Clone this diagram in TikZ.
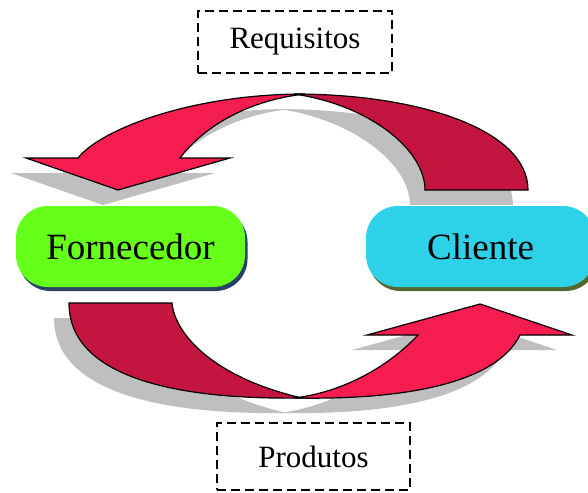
\documentclass[tikz,border=0pt]{standalone}
\usepackage{fontspec}
\setmainfont{Liberation Serif}
\newfontfamily\diagramfont{Liberation Serif}
\usetikzlibrary{shadows}

\definecolor{arrowlight}{RGB}{245,28,80}
\definecolor{arrowdark}{RGB}{196,21,62}
\definecolor{shadowgray}{RGB}{191,191,191}
\definecolor{supplier}{RGB}{102,255,25}
\definecolor{supplierrim}{RGB}{40,66,100}
\definecolor{client}{RGB}{45,210,232}
\definecolor{clientrim}{RGB}{85,102,46}

% Upper arrow: tail part (right) and head part (left)
\newcommand\TopTail[1]{\path[#1] (294,94) .. controls (420,94) and (528,130) .. (528,190)
  -- (425,190) .. controls (425,150) and (370,105) .. (294,94) -- cycle;}
\newcommand\TopHead[1]{\path[#1] (305,94) .. controls (190,94) and (100,130) .. (78,158)
  -- (26,158) -- (118,190) -- (230,158) -- (180,158)
  .. controls (205,125) and (250,100) .. (305,94) -- cycle;}
% Lower arrow: tail part (left) and head part (right)
\newcommand\LowTail[1]{\path[#1] (69,303) -- (172,303) .. controls (175,335) and (215,378) .. (302,398)
  .. controls (170,400) and (69,375) .. (69,303) -- cycle;}
\newcommand\LowHead[1]{\path[#1] (294,398) .. controls (400,400) and (495,385) .. (520,335)
  -- (572,335) -- (480,304) -- (367,335) -- (418,335)
  .. controls (390,365) and (345,392) .. (294,398) -- cycle;}

\tikzset{
  ribbon/.style={draw=black, line width=1.2pt, line join=miter},
  castshadow/.style={fill=shadowgray, shift={(-15,15)}},
  pillbox/.style={minimum width=229pt, minimum height=81pt, rounded corners=32pt,
    inner sep=0pt, font=\diagramfont\fontsize{37}{44}\selectfont},
  tagbox/.style={draw=black, line width=2.4pt, dash pattern=on 9pt off 5pt,
    inner sep=0pt, font=\diagramfont\fontsize{31}{37}\selectfont}
}

\begin{document}
\begin{tikzpicture}[x=1pt, y=-1pt]
  \useasboundingbox (0,0) rectangle (588,492);

  % cast shadows of the two ribbon arrows
  \TopTail{castshadow}
  \TopHead{castshadow}
  \LowTail{castshadow}
  \LowHead{castshadow}

  % ribbon arrows
  \TopTail{ribbon, fill=arrowdark}
  \TopHead{ribbon, fill=arrowlight}
  \LowTail{ribbon, fill=arrowdark}
  \LowHead{ribbon, fill=arrowlight}

  % parties
  \node[pillbox, fill=supplier,
        drop shadow={shadow xshift=2.5pt, shadow yshift=-4pt, fill=supplierrim, opacity=1}]
        (forn) at (130.5,246.5) {Fornecedor};
  \node[pillbox, fill=client,
        drop shadow={shadow xshift=2.5pt, shadow yshift=-4pt, fill=clientrim, opacity=1}]
        (cli) at (480.5,246.5) {Cliente};

  % flow labels
  \node[tagbox, minimum width=194pt, minimum height=62pt] (req) at (295,42) {Requisitos};
  \node[tagbox, minimum width=193pt, minimum height=67pt] (prod) at (313.5,456.5) {Produtos};
\end{tikzpicture}
\end{document}
